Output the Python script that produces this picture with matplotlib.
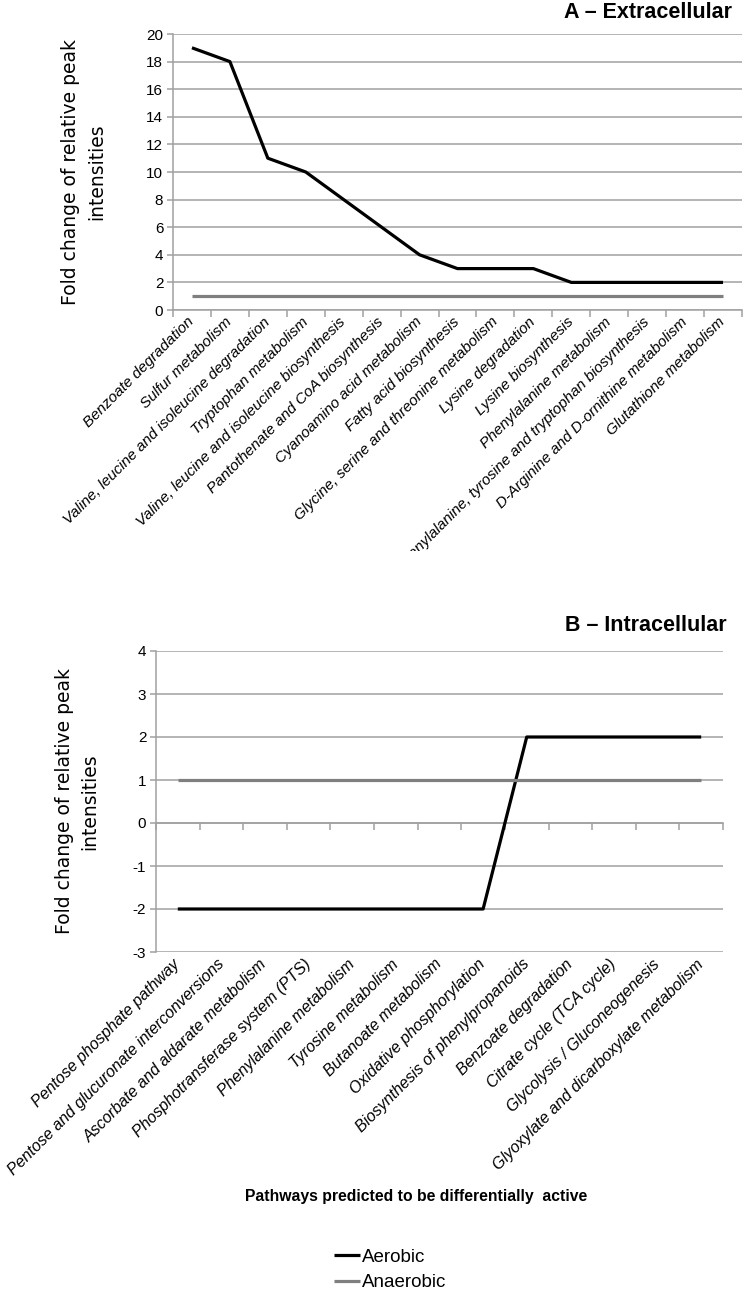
import numpy as np
import matplotlib
matplotlib.use("Agg")
import matplotlib.pyplot as plt
from matplotlib.transforms import Bbox

plt.rcParams["axes.unicode_minus"] = False

# Panel A - extracellular
extra_pathways = [
    "Benzoate degradation",
    "Sulfur metabolism",
    "Valine, leucine and isoleucine degradation",
    "Tryptophan metabolism",
    "Valine, leucine and isoleucine biosynthesis",
    "Pantothenate and CoA biosynthesis",
    "Cyanoamino acid metabolism",
    "Fatty acid biosynthesis",
    "Glycine, serine and threonine metabolism",
    "Lysine degradation",
    "Lysine biosynthesis",
    "Phenylalanine metabolism",
    "Phenylalanine, tyrosine and tryptophan biosynthesis",
    "D-Arginine and D-ornithine metabolism",
    "Glutathione metabolism",
]
extra_aerobic = [19, 18, 11, 10, 8, 6, 4, 3, 3, 3, 2, 2, 2, 2, 2]
extra_anaerobic = [1] * 15

# Panel B - intracellular
intra_pathways = [
    "Pentose phosphate pathway",
    "Pentose and glucuronate interconversions",
    "Ascorbate and aldarate metabolism",
    "Phosphotransferase system (PTS)",
    "Phenylalanine metabolism",
    "Tyrosine metabolism",
    "Butanoate metabolism",
    "Oxidative phosphorylation",
    "Biosynthesis of phenylpropanoids",
    "Benzoate degradation",
    "Citrate cycle (TCA cycle)",
    "Glycolysis / Gluconeogenesis",
    "Glyoxylate and dicarboxylate metabolism",
]
intra_aerobic = [-2, -2, -2, -2, -2, -2, -2, -2, 2, 2, 2, 2, 2]
intra_anaerobic = [1] * 13

GRID = "#a0a0a0"
ANAER = "#7f7f7f"
NARROW = ["Liberation Sans Narrow", "Liberation Sans", "DejaVu Sans"]
ARIAL = ["Liberation Sans", "DejaVu Sans"]

W, H = 743, 1289
fig = plt.figure(figsize=(W / 100, H / 100), dpi=100)


def style_axes(ax, n, ylim, yticks):
    ax.set_xlim(-0.5, n - 0.5)
    ax.set_ylim(*ylim)
    ax.set_yticks(yticks)
    ax.grid(axis="y", color=GRID, linewidth=1.1)
    ax.set_axisbelow(True)
    for s in ["top", "right"]:
        ax.spines[s].set_visible(False)
    ax.spines["left"].set_color(GRID)
    ax.spines["left"].set_linewidth(1.1)
    ax.spines["bottom"].set_color(GRID)
    ax.spines["bottom"].set_linewidth(1.1)
    ax.tick_params(axis="y", length=4, color=GRID, width=1.1, pad=3)
    for t in ax.get_yticklabels():
        t.set_family(ARIAL)
        t.set_fontsize(11)
    ax.set_xticks(np.arange(n))
    ax.tick_params(axis="x", which="major", length=0, pad=7)
    ax.set_xticks(np.arange(n + 1) - 0.5, minor=True)
    ax.tick_params(axis="x", which="minor", length=5, color=GRID, width=1.1)


# ---- Panel A ----
axA = fig.add_axes([173 / W, 1 - 310 / H, 569 / W, 276 / H])
xa = np.arange(len(extra_pathways))
axA.plot(xa, extra_anaerobic, color=ANAER, linewidth=2.3, solid_capstyle="butt")
axA.plot(xa, extra_aerobic, color="black", linewidth=2.3, solid_capstyle="butt")
style_axes(axA, len(extra_pathways), (0, 20), np.arange(0, 21, 2))
labelsA = axA.set_xticklabels(extra_pathways, rotation=45, ha="right", va="center",
                              rotation_mode="anchor", fontstyle="italic",
                              family=ARIAL, fontsize=11)
# the original panel A image is cropped just below its tick labels
crop = Bbox.from_extents(0, H - 551, W, H)
for t in labelsA:
    t.set_clip_box(crop)
    t.set_clip_on(True)
axA.set_ylabel("Fold change of relative peak\nintensities", fontsize=13.5,
               family="DejaVu Sans", linespacing=1.45)
axA.yaxis.set_label_coords(-0.118, 0.5)
fig.text(732 / W, 1 - 12 / H, "A \u2013 Extracellular", ha="right", va="center",
         fontsize=15.5, fontweight="bold", family=NARROW)

# ---- Panel B ----
axB = fig.add_axes([156 / W, 1 - 952 / H, 567 / W, 301 / H])
xb = np.arange(len(intra_pathways))
l_aer, = axB.plot(xb, intra_aerobic, color="black", linewidth=2.3,
                  solid_capstyle="butt", label="Aerobic")
l_ana, = axB.plot(xb, intra_anaerobic, color=ANAER, linewidth=2.3,
                  solid_capstyle="butt", label="Anaerobic")
style_axes(axB, len(intra_pathways), (-3, 4), np.arange(-3, 5, 1))
axB.spines["bottom"].set_visible(False)
axB.tick_params(axis="x", which="minor", length=0)
axB.set_xticklabels(intra_pathways, rotation=45, ha="right", va="center",
                    rotation_mode="anchor", fontstyle="italic", family=ARIAL,
                    fontsize=11.5)
# category axis crosses at y = 0
y0, y1 = axB.get_ylim()
sec = axB.secondary_xaxis((0 - y0) / (y1 - y0))
sec.set_xticks(np.arange(len(intra_pathways) + 1) - 0.5)
sec.set_xticklabels([])
sec.tick_params(length=5, color=GRID, width=1.1)
sec.spines["bottom"].set_color(GRID)
sec.spines["bottom"].set_linewidth(1.1)

axB.set_ylabel("Fold change of relative peak\nintensities", fontsize=13.5,
               family="DejaVu Sans", linespacing=1.45)
axB.yaxis.set_label_coords(-0.10, 0.5)
fig.text(727 / W, 1 - 625 / H, "B \u2013 Intracellular", ha="right", va="center",
         fontsize=15.5, fontweight="bold", family=NARROW)

fig.text(416 / W, 1 - 1196 / H, "Pathways predicted to be differentially  active",
         ha="center", va="center", fontsize=11.3, fontweight="bold", family=NARROW)

fig.legend(handles=[l_aer, l_ana], loc="center",
           bbox_to_anchor=(390 / W, 1 - 1270 / H), frameon=False,
           prop={"family": NARROW, "size": 13.5}, handlelength=1.4,
           handletextpad=0.1, labelspacing=0.45, borderaxespad=0)

fig.savefig("out.png", dpi=100)
